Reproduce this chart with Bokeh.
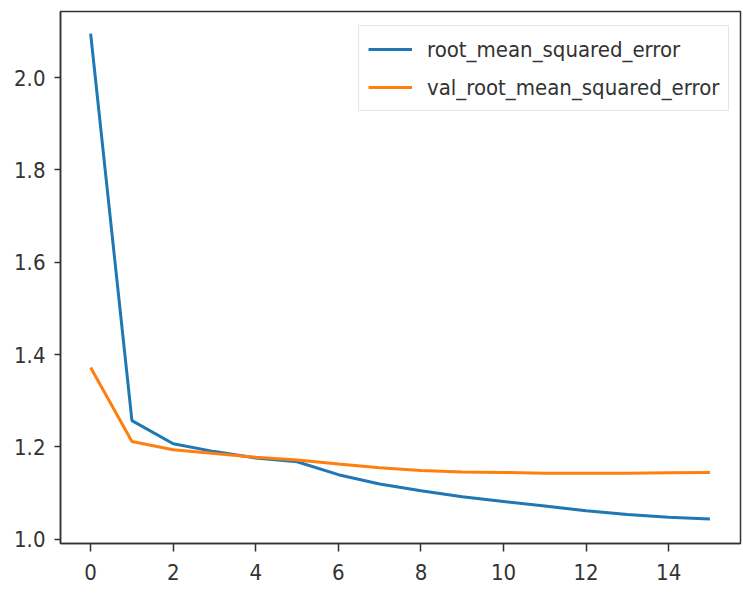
from bokeh.plotting import figure
from bokeh.models import FixedTicker, Range1d, Legend, LegendItem, PrintfTickFormatter
from bokeh.embed import file_html
from bokeh.resources import INLINE

epochs = list(range(16))
rmse = [2.095, 1.257, 1.207, 1.19, 1.176, 1.168, 1.14, 1.12, 1.105, 1.092, 1.082, 1.072, 1.062, 1.054, 1.048, 1.044]
val_rmse = [1.372, 1.212, 1.194, 1.186, 1.178, 1.172, 1.163, 1.155, 1.149, 1.146, 1.145, 1.143, 1.143, 1.143, 1.144, 1.145]
x_ticks = [0, 2, 4, 6, 8, 10, 12, 14]
y_ticks = [1.0, 1.2, 1.4, 1.6, 1.8, 2.0]
series_names = ["root_mean_squared_error", "val_root_mean_squared_error"]

FONT = "DejaVu Sans Condensed"

p = figure(width=743, height=593, output_backend="svg", toolbar_location=None,
           x_range=Range1d(-0.73, 15.74), y_range=Range1d(0.991, 2.143),
           min_border_left=60, min_border_right=3, min_border_top=11, min_border_bottom=50)
p.xgrid.visible = False
p.ygrid.visible = False
p.outline_line_color = "#333333"
p.outline_line_width = 1.5
p.background_fill_color = "white"
p.border_fill_color = "white"

r1 = p.line(epochs, rmse, line_color="#1f77b4", line_width=3)
r2 = p.line(epochs, val_rmse, line_color="#ff7f0e", line_width=3)

for ax in (p.xaxis[0], p.yaxis[0]):
    ax.axis_line_color = "#333333"
    ax.axis_line_width = 1.5
    ax.major_tick_line_color = "#333333"
    ax.major_tick_line_width = 1.5
    ax.minor_tick_line_color = None
    ax.major_tick_in = 0
    ax.major_label_text_font = FONT
    ax.major_label_text_font_size = "22px"
    ax.major_label_text_color = "#333333"

p.xaxis[0].ticker = FixedTicker(ticks=x_ticks)
p.yaxis[0].ticker = FixedTicker(ticks=y_ticks)
p.yaxis[0].formatter = PrintfTickFormatter(format="%.1f")
p.xaxis[0].major_tick_out = 8
p.yaxis[0].major_tick_out = 6
p.xaxis[0].major_label_standoff = 12
p.yaxis[0].major_label_standoff = 9

legend = Legend(items=[LegendItem(label=series_names[0], renderers=[r1]),
                       LegendItem(label=series_names[1], renderers=[r2])],
                location=(298, 432), margin=0, padding=9, spacing=10,
                glyph_width=44, glyph_height=28, label_height=28, label_standoff=15,
                label_text_font=FONT, label_text_font_size="22px", label_text_color="#333333",
                border_line_color="#cccccc", border_line_width=1.5, background_fill_alpha=0.8)
p.add_layout(legend, "center")

open("out.html", "w").write(file_html(p, INLINE))
